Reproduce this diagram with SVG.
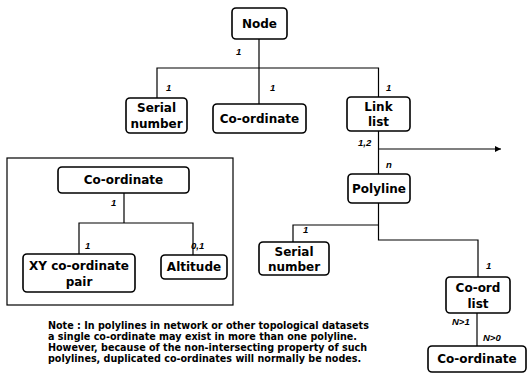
<svg xmlns="http://www.w3.org/2000/svg" width="528" height="380" viewBox="0 0 528 380">
<defs>
<marker id="arr" viewBox="0 0 10 10" refX="10" refY="5" markerWidth="10" markerHeight="6" orient="auto" markerUnits="userSpaceOnUse"><path d="M0,0 L10,5 L0,10 Z" fill="#000"/></marker>
</defs>
<style>
.box{fill:#fff;stroke:#000;stroke-width:1.6}
.t{font-family:"DejaVu Sans",Arial,sans-serif;font-weight:bold;font-size:12px;text-anchor:middle;fill:#000}
.m{font-family:"Liberation Sans",Arial,sans-serif;font-weight:bold;font-style:italic;font-size:9.5px;fill:#000}
.c{fill:none;stroke:#000;stroke-width:1.2}
.n{font-family:"DejaVu Sans",Arial,sans-serif;font-weight:bold;font-size:9.6px;fill:#000}
</style>
<rect width="528" height="380" fill="#fff"/>
<g id="connectors">
<path class="c" d="M259,39 V68 M157,98 V68 H378.5 V97 M259,68 V104"/>
<path class="c" d="M378.5,131 V174"/>
<path class="c" d="M378.5,149 H501" marker-end="url(#arr)"/>
<path class="c" d="M378.5,203 V240 H478 V277 M378.5,225 H293 V242"/>
<path class="c" d="M477,313 V346"/>
<path class="c" d="M124,193 V223 M79,254 V223 H193 V255"/>
</g>
<g id="labels">
<text class="m" x="236" y="55">1</text>
<text class="m" x="166" y="91">1</text>
<text class="m" x="270" y="91">1</text>
<text class="m" x="386" y="91">1</text>
<text class="m" x="358" y="146">1,2</text>
<text class="m" x="386" y="168">n</text>
<text class="m" x="303" y="233">1</text>
<text class="m" x="486" y="269">1</text>
<text class="m" x="452" y="325">N&gt;1</text>
<text class="m" x="483" y="341">N&gt;0</text>
<text class="m" x="111" y="206">1</text>
<text class="m" x="85" y="249">1</text>
<text class="m" x="191" y="249">0,1</text>
</g>
<g id="node-node"><rect class="box" x="232" y="8" width="55" height="31" rx="4"/><text class="t" x="259.5" y="28">Node</text></g>
<g id="node-serial1"><rect class="box" x="126" y="98" width="61" height="35" rx="4"/><text class="t" x="156.5" y="112">Serial</text><text class="t" x="156.5" y="128">number</text></g>
<g id="node-coord1"><rect class="box" x="213" y="104" width="93" height="29" rx="4"/><text class="t" x="259.5" y="123">Co-ordinate</text></g>
<g id="node-linklist"><rect class="box" x="347" y="97" width="63" height="34" rx="4"/><text class="t" x="378.5" y="111">Link</text><text class="t" x="378.5" y="126">list</text></g>
<g id="node-polyline"><rect class="box" x="348" y="174" width="62" height="29" rx="4"/><text class="t" x="379" y="193">Polyline</text></g>
<g id="node-serial2"><rect class="box" x="259" y="242" width="70" height="33" rx="4"/><text class="t" x="294" y="256">Serial</text><text class="t" x="294" y="271">number</text></g>
<g id="node-coordlist"><rect class="box" x="446" y="277" width="64" height="36" rx="4"/><text class="t" x="478" y="292">Co-ord</text><text class="t" x="478" y="308">list</text></g>
<g id="node-coord2"><rect class="box" x="428" y="346" width="98" height="26" rx="4"/><text class="t" x="477" y="363">Co-ordinate</text></g>
<g id="inset">
<rect x="7" y="158" width="226" height="147" fill="none" stroke="#000" stroke-width="1.2"/>
</g>
<g id="node-inset-coord"><rect class="box" x="58" y="167" width="131" height="26" rx="4"/><text class="t" x="123.5" y="184">Co-ordinate</text></g>
<g id="node-xy"><rect class="box" x="23" y="254" width="112" height="38" rx="4"/><text class="t" x="79" y="270">XY co-ordinate</text><text class="t" x="79" y="286">pair</text></g>
<g id="node-altitude"><rect class="box" x="161" y="255" width="66" height="24" rx="4"/><text class="t" x="194" y="271">Altitude</text></g>
<g id="note">
<text class="n" x="48" y="329">Note : In polylines in network or other topological datasets</text>
<text class="n" x="48" y="340">a single co-ordinate may exist in more than one polyline.</text>
<text class="n" x="48" y="351">However, because of the non-intersecting property of such</text>
<text class="n" x="48" y="362">polylines, duplicated co-ordinates will normally be nodes.</text>
</g>
</svg>
